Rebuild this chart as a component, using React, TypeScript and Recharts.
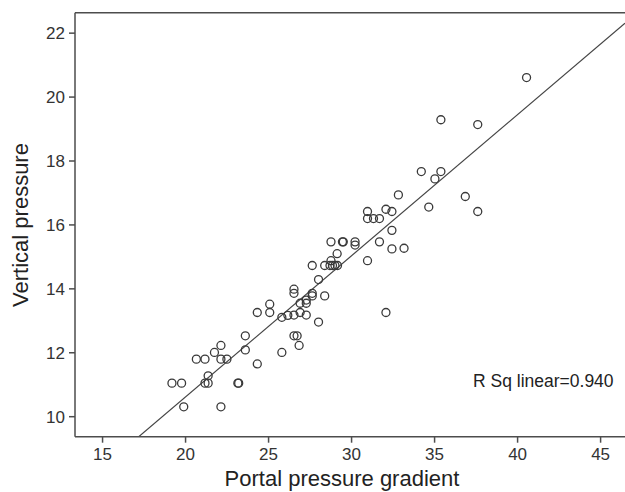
import React from "react";
import {
  ScatterChart,
  Scatter,
  XAxis,
  YAxis,
  ReferenceLine,
} from "recharts";

// portal pressure gradient (x) and vertical pressure (y)
const gradient = [
  40.54, 35.38, 37.6, 34.2, 35.38, 35.02, 32.82, 36.85, 34.65, 37.6,
  30.96, 32.07, 32.43, 30.96, 31.32, 31.68, 32.43, 28.76, 29.45, 29.5,
  30.21, 30.21, 31.68, 32.43, 33.16, 29.13, 30.96, 28.76, 27.63, 28.38,
  28.7, 28.85, 29.0, 29.15, 28.01, 26.53, 26.53, 27.63, 27.63, 28.38,
  27.27, 27.27, 26.9, 25.07, 24.32, 25.07, 26.9, 27.27, 26.53, 26.16,
  25.8, 32.07, 28.01, 26.53, 26.72, 23.6, 26.84, 22.13, 23.6, 21.74,
  25.8, 20.65, 21.17, 22.13, 22.49, 24.32, 21.36, 19.18, 19.76, 21.17,
  21.36, 23.15, 23.2, 19.89, 22.13,
];
const vertical = [
  20.61, 19.29, 19.14, 17.67, 17.67, 17.44, 16.94, 16.89, 16.56, 16.42,
  16.42, 16.49, 16.42, 16.2, 16.2, 16.2, 15.83, 15.47, 15.47, 15.47,
  15.47, 15.37, 15.47, 15.25, 15.27, 15.1, 14.88, 14.88, 14.73, 14.73,
  14.73, 14.73, 14.73, 14.73, 14.29, 13.99, 13.86, 13.86, 13.78, 13.78,
  13.65, 13.55, 13.55, 13.52, 13.26, 13.26, 13.26, 13.18, 13.18, 13.17,
  13.11, 13.26, 12.96, 12.53, 12.53, 12.53, 12.23, 12.23, 12.09, 12.01,
  12.01, 11.8, 11.8, 11.8, 11.8, 11.65, 11.28, 11.05, 11.05, 11.05,
  11.05, 11.05, 11.05, 10.31, 10.31,
];

const xTicks = [15, 20, 25, 30, 35, 40, 45];
const yTicks = [10, 12, 14, 16, 18, 20, 22];
const xDomain = [13.34, 46.47];
const yDomain = [9.374, 22.64];

// fitted line (R Sq linear = 0.940)
const fitIntercept = 1.786;
const fitSlope = 0.4417;

const points = gradient.map((x, i) => ({ x, y: vertical[i] }));

const FONT = '"Liberation Sans", Arial, sans-serif';
const AXIS = "#4d4d4d";

const Ring = (props: any) => (
  <circle
    cx={props.cx}
    cy={props.cy}
    r={4}
    fill="none"
    stroke="#3a3a3a"
    strokeWidth={1.3}
  />
);

export default function App() {
  return (
    <div
      style={{
        position: "absolute",
        left: 0,
        top: 0,
        width: 625,
        height: 492,
        background: "#fff",
        overflow: "hidden",
        fontFamily: FONT,
      }}
    >
      <ScatterChart
        width={625}
        height={492}
        margin={{ top: 12.7, right: 0, bottom: 25.3, left: 15 }}
      >
        <XAxis
          type="number"
          dataKey="x"
          domain={xDomain}
          ticks={xTicks}
          allowDataOverflow
          height={30}
          tickSize={6}
          tickMargin={5}
          stroke={AXIS}
          strokeWidth={1.5}
          tick={{ fill: "#333", fontSize: 17, fontFamily: FONT }}
          label={{
            value: "Portal pressure gradient",
            position: "bottom",
            offset: 4,
            dx: -8,
            fill: "#222",
            fontSize: 22,
            fontFamily: FONT,
          }}
        />
        <YAxis
          type="number"
          dataKey="y"
          domain={yDomain}
          ticks={yTicks}
          allowDataOverflow
          width={60}
          tickSize={6}
          tickMargin={4}
          stroke={AXIS}
          strokeWidth={1.5}
          tick={{ fill: "#333", fontSize: 17, fontFamily: FONT }}
        />
        <ReferenceLine y={yDomain[1]} stroke={AXIS} strokeWidth={1.5} />
        <ReferenceLine
          segment={[
            { x: xDomain[0], y: fitIntercept + fitSlope * xDomain[0] },
            { x: xDomain[1], y: fitIntercept + fitSlope * xDomain[1] },
          ]}
          ifOverflow="hidden"
          stroke="#444"
          strokeWidth={1.2}
        />
        <Scatter data={points} shape={Ring} isAnimationActive={false} />
        <text
          transform="translate(20,225) rotate(-90)"
          textAnchor="middle"
          dy="0.35em"
          fill="#222"
          fontSize={22}
          fontFamily={FONT}
        >
          Vertical pressure
        </text>
        <text
          x={473}
          y={387}
          fill="#222"
          fontSize={17.5}
          fontFamily={FONT}
        >
          R Sq linear=0.940
        </text>
      </ScatterChart>
    </div>
  );
}
